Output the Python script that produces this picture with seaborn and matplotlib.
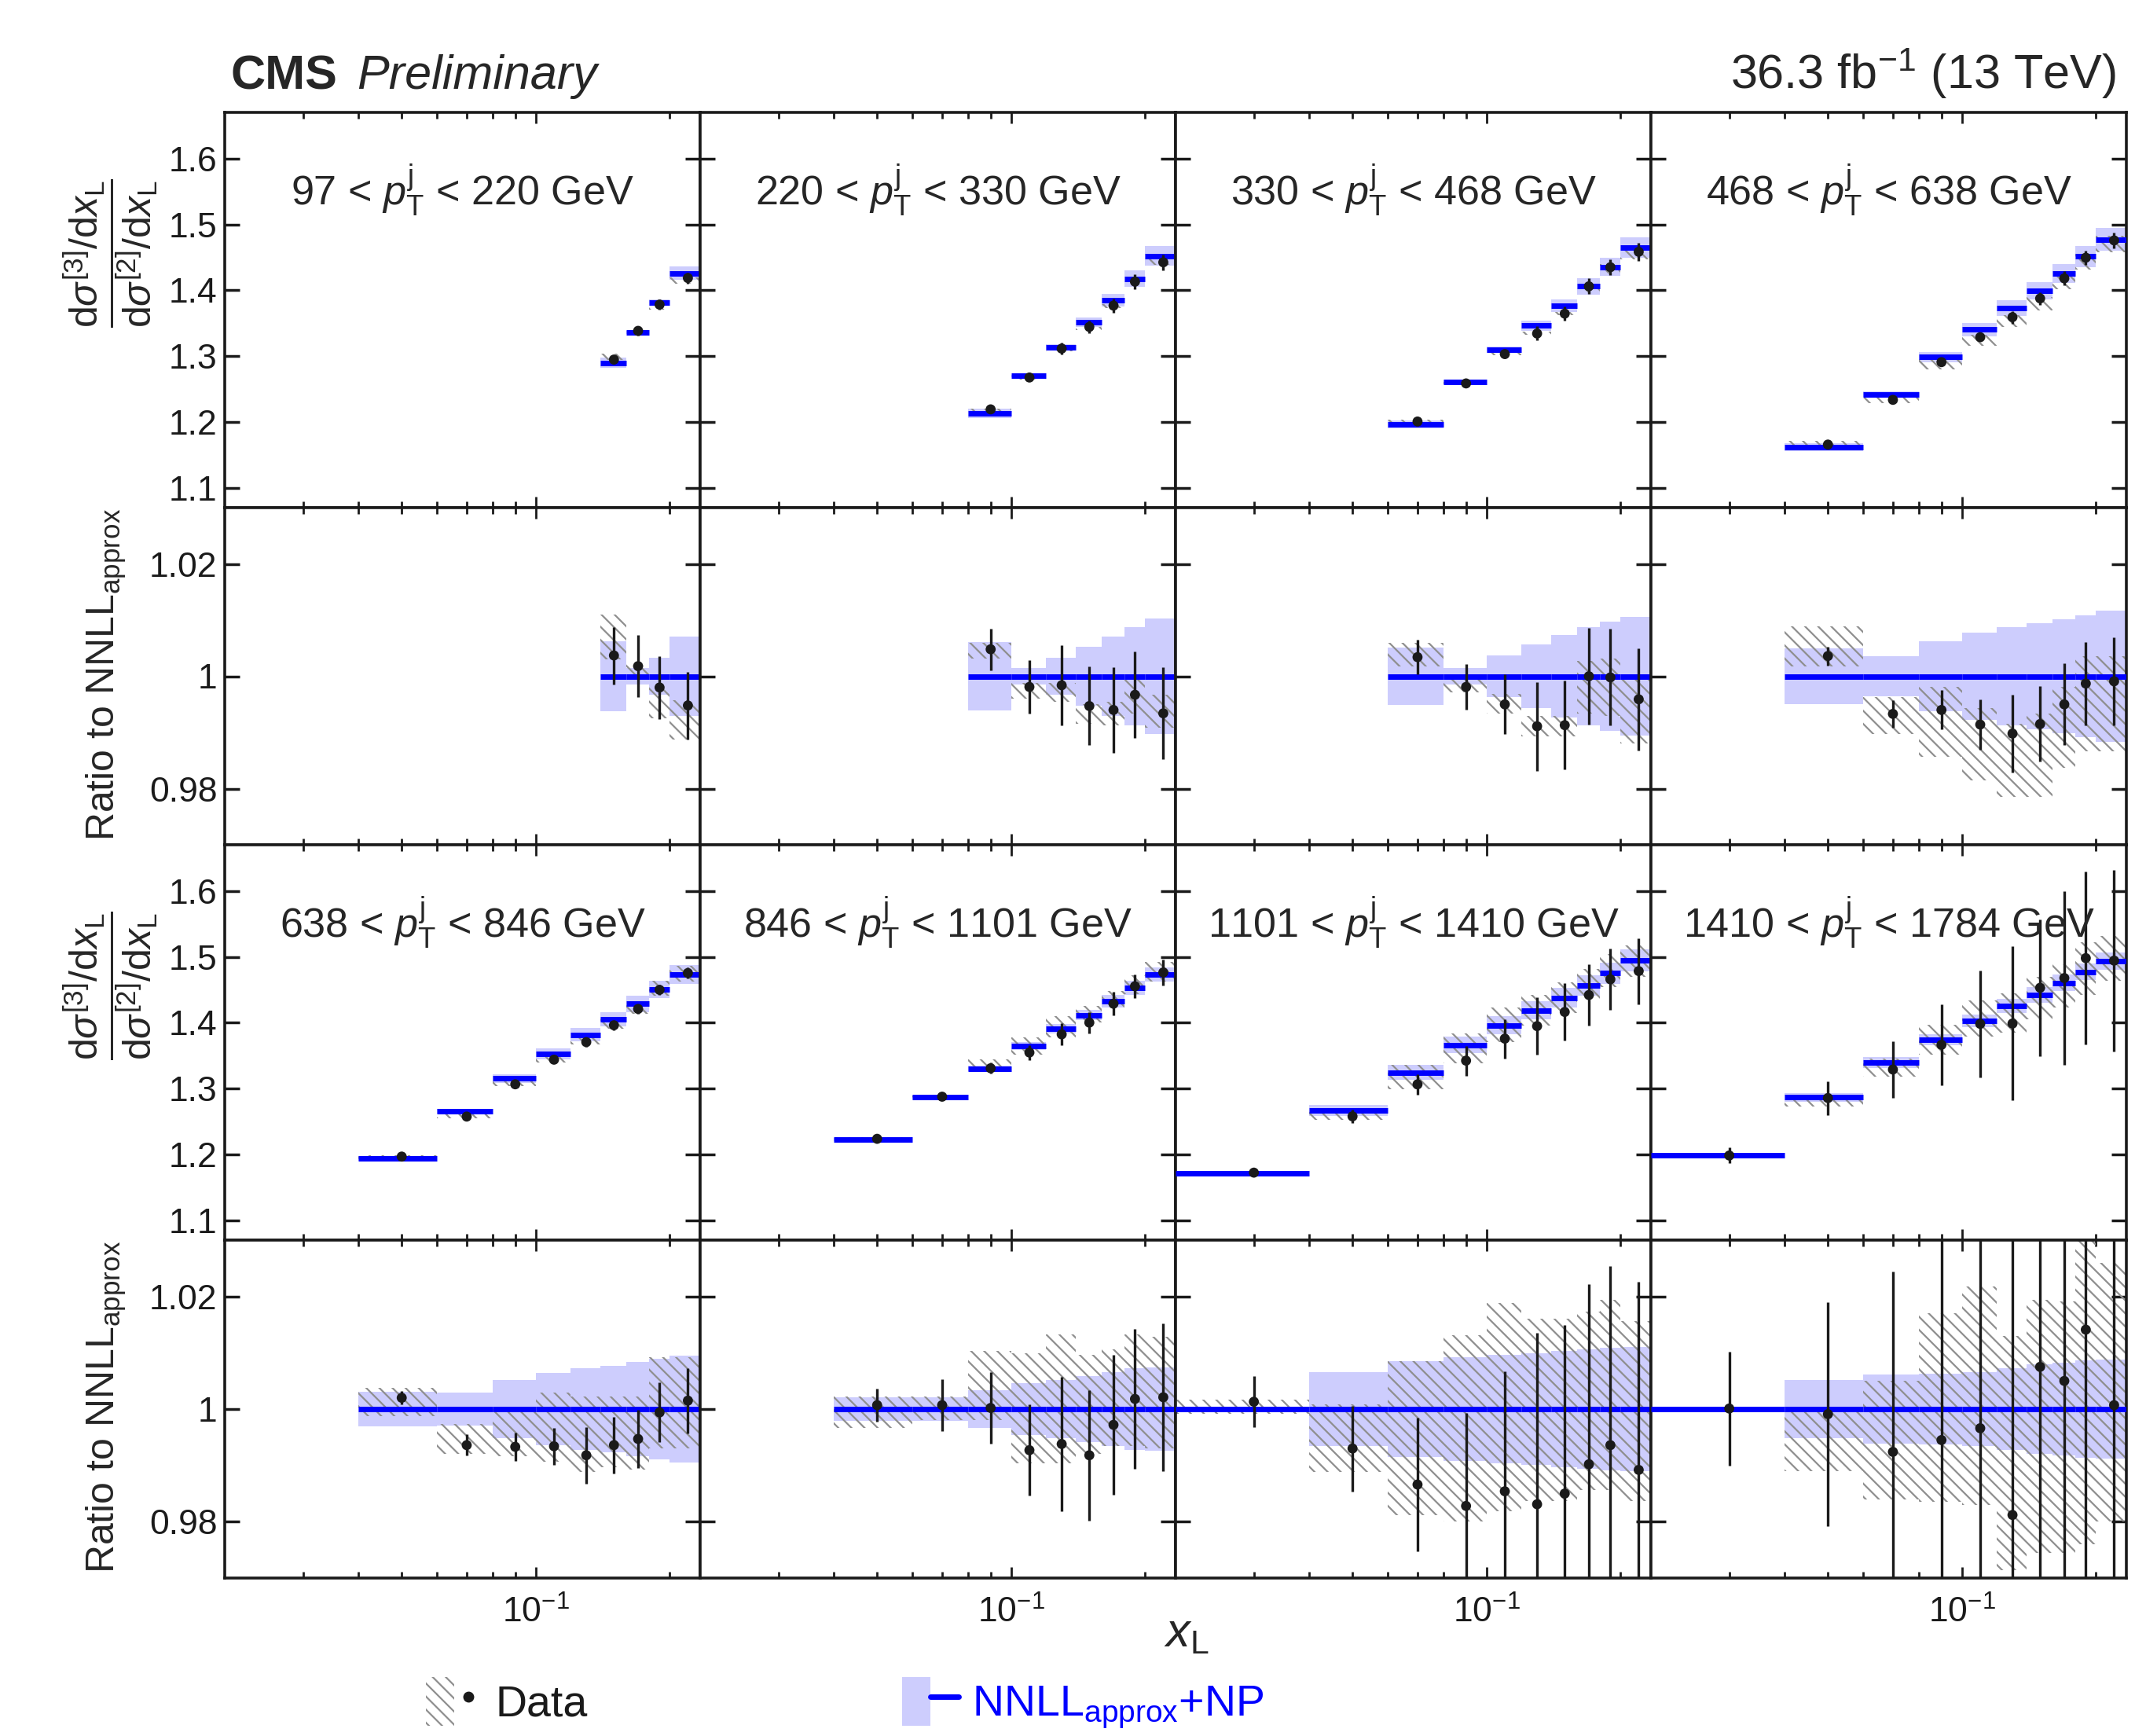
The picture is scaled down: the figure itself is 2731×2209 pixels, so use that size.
import numpy as np
import matplotlib
matplotlib.use('Agg')
import matplotlib.pyplot as plt
import seaborn as sns
from matplotlib.patches import Patch
from matplotlib.lines import Line2D
from matplotlib.legend_handler import HandlerTuple
from matplotlib.ticker import FixedLocator, FixedFormatter, NullFormatter

sns.set_theme(style='ticks')
plt.rcParams['font.family'] = ['Liberation Sans', 'DejaVu Sans']
plt.rcParams['mathtext.fontset'] = 'custom'
plt.rcParams['mathtext.rm'] = 'Liberation Sans'
plt.rcParams['mathtext.it'] = 'Liberation Sans:italic'
plt.rcParams['mathtext.bf'] = 'Liberation Sans:bold'
plt.rcParams['hatch.linewidth'] = 1.6
plt.rcParams['hatch.color'] = '#8f8f8f'

# x_L bin edges (last bin runs past the end of the axis)
edges = [0.02, 0.04, 0.06, 0.08, 0.10, 0.12, 0.14, 0.16, 0.18, 0.20, 0.24]

pt_bins = [(97, 220), (220, 330), (330, 468), (468, 638),
           (638, 846), (846, 1101), (1101, 1410), (1410, 1784)]
first_bin = [6, 3, 2, 1, 1, 1, 0, 0]

# NNLL_approx+NP prediction for dsigma3/dsigma2
theory = [
    [1.290, 1.336, 1.381, 1.426],
    [1.2134, 1.270, 1.3136, 1.3515, 1.385, 1.4177, 1.452],
    [1.1967, 1.261, 1.3097, 1.3463, 1.3765, 1.406, 1.4353, 1.4644],
    [1.1616, 1.242, 1.2987, 1.3403, 1.3732, 1.3995, 1.4252, 1.4513, 1.477],
    [1.1944, 1.2656, 1.3153, 1.3528, 1.3819, 1.4051, 1.4285, 1.4507, 1.4732],
    [1.2229, 1.2868, 1.3306, 1.3647, 1.391, 1.4117, 1.4328, 1.4528, 1.4732],
    [1.1709, 1.2667, 1.3242, 1.3659, 1.3962, 1.4188, 1.4379, 1.4563, 1.4753, 1.4945],
    [1.1983, 1.2868, 1.3391, 1.374, 1.403, 1.4255, 1.4422, 1.4605, 1.4772, 1.4932],
]

# data / theory
ratio = [
    [1.0037, 1.0018, 0.9980, 0.9948],
    [1.0048, 0.9981, 0.9984, 0.9947, 0.9940, 0.9967, 0.9934],
    [1.0034, 0.9981, 0.9950, 0.9911, 0.9913, 1.0000, 0.9998, 0.9959],
    [1.0036, 0.9933, 0.9940, 0.9914, 0.9898, 0.9915, 0.9950, 0.9987, 0.9991],
    [1.0020, 0.9936, 0.9933, 0.9934, 0.9918, 0.9936, 0.9947, 0.9994, 1.0015],
    [1.0007, 1.0007, 1.0002, 0.9927, 0.9938, 0.9918, 0.9972, 1.0018, 1.0021],
    [1.0013, 0.9930, 0.9866, 0.9828, 0.9854, 0.9831, 0.9850, 0.9902, 0.9936, 0.9892],
    [1.0001, 0.9991, 0.9924, 0.9945, 0.9966, 0.9812, 1.0075, 1.0050, 1.0141, 1.0007],
]

# statistical uncertainty (relative)
stat = [
    [0.0051, 0.0055, 0.0056, 0.0060],
    [0.0037, 0.0047, 0.0071, 0.0070, 0.0076, 0.0077, 0.0082],
    [0.0031, 0.0041, 0.0053, 0.0079, 0.0079, 0.0086, 0.0086, 0.0091],
    [0.0017, 0.0025, 0.0035, 0.0045, 0.0069, 0.0067, 0.0073, 0.0074, 0.0078],
    [0.0012, 0.0019, 0.0025, 0.0033, 0.0050, 0.0050, 0.0052, 0.0053, 0.0058],
    [0.0029, 0.0046, 0.0063, 0.0081, 0.0119, 0.0116, 0.0124, 0.0124, 0.0131],
    [0.0045, 0.0076, 0.0118, 0.0165, 0.0213, 0.0305, 0.0300, 0.0320, 0.0318, 0.0334],
    [0.0101, 0.0199, 0.0320, 0.0450, 0.0580, 0.0820, 0.0720, 0.0900, 0.0890, 0.0920],
]

# theory uncertainty (relative, symmetric)
th_unc = [
    [0.0062, 0.0014, 0.0033, 0.0070],
    [0.0061, 0.0014, 0.0033, 0.0052, 0.0071, 0.0087, 0.0103],
    [0.0051, 0.0015, 0.0037, 0.0057, 0.0073, 0.0087, 0.0097, 0.0106],
    [0.0049, 0.0035, 0.0062, 0.0077, 0.0087, 0.0095, 0.0102, 0.0109, 0.0117],
    [0.0031, 0.0029, 0.0051, 0.0064, 0.0072, 0.0077, 0.0084, 0.0089, 0.0095],
    [0.0021, 0.0021, 0.0034, 0.0046, 0.0052, 0.0058, 0.0066, 0.0072, 0.0074],
    [0.0003, 0.0065, 0.0085, 0.0092, 0.0096, 0.0099, 0.0103, 0.0106, 0.0109, 0.0110],
    [0.0002, 0.0051, 0.0062, 0.0063, 0.0066, 0.0072, 0.0080, 0.0083, 0.0086, 0.0088],
]

# systematic band of the data, in ratio units
sys_lo = [
    [1.0030, 1.0004, 0.9925, 0.9888],
    [1.0032, 0.9960, 0.9955, 0.9916, 0.9913, 0.9934, 0.9909],
    [1.0018, 0.9971, 0.9934, 0.9893, 0.9893, 0.9934, 0.9930, 0.9881],
    [1.0018, 0.9897, 0.9856, 0.9814, 0.9786, 0.9786, 0.9837, 0.9867, 0.9867],
    [0.9988, 0.9920, 0.9916, 0.9906, 0.9888, 0.9897, 0.9893, 0.9930, 0.9930],
    [0.9967, 0.9981, 0.9981, 0.9904, 0.9904, 0.9920, 0.9934, 0.9934, 0.9930],
    [0.9992, 0.9888, 0.9812, 0.9800, 0.9819, 0.9837, 0.9837, 0.9856, 0.9856, 0.9837],
    [0.9998, 0.9890, 0.9840, 0.9835, 0.9830, 0.9714, 0.9744, 0.9744, 0.9760, 0.9800],
]
sys_hi = [
    [1.0110, 1.0022, 0.9985, 0.9957],
    [1.0060, 0.9988, 0.9988, 0.9950, 0.9955, 0.9994, 0.9967],
    [1.0059, 0.9999, 0.9969, 0.9930, 0.9930, 1.0027, 1.0031, 0.9994],
    [1.0089, 0.9963, 0.9981, 0.9944, 0.9916, 0.9934, 0.9981, 1.0036, 1.0036],
    [1.0038, 0.9974, 1.0001, 1.0029, 1.0022, 1.0022, 1.0022, 1.0092, 1.0092],
    [1.0023, 1.0023, 1.0103, 1.0099, 1.0133, 1.0096, 1.0106, 1.0133, 1.0129],
    [1.0017, 1.0008, 1.0085, 1.0131, 1.0189, 1.0161, 1.0161, 1.0173, 1.0194, 1.0156],
    [1.0002, 1.0004, 1.0050, 1.0170, 1.0217, 1.0130, 1.0194, 1.0191, 1.0300, 1.0260],
]

band_col = '#cdcdfd'
hatch_col = '#8f8f8f'

W, H = 2731, 2209
col_x = [286, 891, 1496, 2101]
col_w = 605
row_y = [(143, 646), (646, 1075), (1075, 1578), (1578, 2008)]


def rect(x0, y0, x1, y1):
    return [x0 / W, 1 - y1 / H, (x1 - x0) / W, (y1 - y0) / H]


def draw(ax, lo, hi, base, r, st, th, slo, shi):
    w = hi - lo
    x = 0.5 * (lo + hi)
    ax.bar(lo, 2 * th * base, bottom=base * (1 - th), width=w, align='edge',
           color=band_col, lw=0, zorder=1)
    ax.bar(lo, (shi - slo) * base, bottom=slo * base, width=w, align='edge',
           facecolor='none', edgecolor=hatch_col, hatch='\\\\', lw=0, zorder=2)
    ax.hlines(base, lo, hi, color='blue', lw=5, zorder=3)
    ax.errorbar(x, r * base, yerr=st * base, fmt='none', ecolor='k',
                elinewidth=2.4, zorder=4)
    sns.scatterplot(x=x, y=r * base, ax=ax, color='k', s=85, edgecolor='none',
                    zorder=5, legend=False)


fig = plt.figure(figsize=(W / 100, H / 100), dpi=100)
e = np.array(edges)

for i in range(8):
    col, grp = i % 4, i // 4
    n0 = first_bin[i]
    nb = len(theory[i])
    lo, hi = e[n0:n0 + nb], e[n0 + 1:n0 + nb + 1]
    T = np.array(theory[i])
    R = np.array(ratio[i])
    S = np.array(stat[i])
    TH = np.array(th_unc[i])
    SL, SH = np.array(sys_lo[i]), np.array(sys_hi[i])

    y_main = row_y[2 * grp]
    y_rat = row_y[2 * grp + 1]
    ax = fig.add_axes(rect(col_x[col], y_main[0], col_x[col] + col_w, y_main[1]))
    rx = fig.add_axes(rect(col_x[col], y_rat[0], col_x[col] + col_w, y_rat[1]))

    draw(ax, lo, hi, T, R, S, TH, SL, SH)
    draw(rx, lo, hi, np.ones(nb), R, S, TH, SL, SH)

    ax.set_ylim(1.07, 1.67)
    rx.set_ylim(0.97, 1.03)
    ax.yaxis.set_major_locator(FixedLocator([1.1, 1.2, 1.3, 1.4, 1.5, 1.6]))
    rx.yaxis.set_major_locator(FixedLocator([0.98, 1.0, 1.02]))
    for a in (ax, rx):
        a.set_xscale('log')
        a.set_xlim(0.02, 0.2344)
        a.xaxis.set_major_locator(FixedLocator([0.1]))
        a.xaxis.set_minor_locator(FixedLocator([0.03, 0.04, 0.05, 0.06, 0.07,
                                                0.08, 0.09, 0.2]))
        a.xaxis.set_minor_formatter(NullFormatter())
        a.xaxis.set_major_formatter(NullFormatter())
        a.yaxis.set_minor_locator(FixedLocator([]))
        a.tick_params(axis='x', which='major', direction='in', top=True,
                      bottom=True, length=10, width=2, pad=16, labelsize=32,
                      color='k', labelcolor='k')
        a.tick_params(axis='x', which='minor', direction='in', top=True,
                      bottom=True, length=6, width=2, color='k')
        a.tick_params(axis='y', which='major', direction='in', left=True,
                      right=True, length=14, width=2.5, pad=7, labelsize=32,
                      color='k', labelcolor='k')
        for s in a.spines.values():
            s.set_linewidth(2.6)
            s.set_color('k')
        a.set_xlabel('')
        a.set_ylabel('')
        a.set_facecolor('white')
    if col == 0:
        ax.yaxis.set_major_formatter(FixedFormatter(['1.1', '1.2', '1.3', '1.4', '1.5', '1.6']))
        rx.yaxis.set_major_formatter(FixedFormatter(['0.98', '1', '1.02']))
    else:
        ax.yaxis.set_major_formatter(NullFormatter())
        rx.yaxis.set_major_formatter(NullFormatter())
    if grp == 1:
        rx.xaxis.set_major_formatter(FixedFormatter([r'$10^{-1}$']))

    lo_pt, hi_pt = pt_bins[i]
    ax.text(0.5, 0.803, rf'{lo_pt} < $p_{{\mathrm{{T}}}}^{{\mathrm{{j}}}}$ < {hi_pt} GeV',
            transform=ax.transAxes, ha='center', va='center', fontsize=37.5, zorder=6)

# axis titles
ylab = r'$\dfrac{\mathrm{d}\sigma^{[3]}/\mathrm{d}x_{\mathrm{L}}}{\mathrm{d}\sigma^{[2]}/\mathrm{d}x_{\mathrm{L}}}$'
for yc in (322, 1254):
    fig.text(141 / W, 1 - yc / H, ylab, rotation=90, ha='center', va='center', fontsize=36)
for yc in (858, 1790):
    fig.text(135 / W, 1 - yc / H, r'Ratio to NNLL$_{\mathrm{approx}}$', rotation=90,
             ha='center', va='center', fontsize=36)
fig.text(1510 / W, 1 - 2080 / H, r'$x_{\mathrm{L}}$', ha='center', va='center', fontsize=44)

# header
fig.text(293 / W, 1 - 113 / H, 'CMS', fontsize=44, weight='bold', va='baseline')
fig.text(454 / W, 1 - 113 / H, 'Preliminary', fontsize=44, style='italic', va='baseline')
fig.text(2693 / W, 1 - 113 / H, r'36.3 fb$^{-1}$ (13 TeV)', fontsize=44, ha='right', va='baseline')

# legend
h_data = (Patch(facecolor='white', edgecolor=hatch_col, hatch='\\\\', lw=0),
          Line2D([], [], marker='o', color='k', ls='none', markersize=9))
h_th = (Patch(facecolor=band_col, lw=0), Line2D([], [], color='blue', lw=5))
leg = fig.legend([h_data, h_th], ['Data', r'NNLL$_{\mathrm{approx}}$+NP'],
                 handler_map={tuple: HandlerTuple(ndivide=None, pad=0)},
                 loc='center left', bbox_to_anchor=(542 / W, 1 - 2168 / H), ncol=2,
                 frameon=False, fontsize=40, handlelength=1.3, handleheight=1.35,
                 handletextpad=0.3, columnspacing=7.2, borderaxespad=0, borderpad=0)
for t, c in zip(leg.get_texts(), ['k', 'blue']):
    t.set_color(c)

fig.savefig('out.png', dpi=100, facecolor='white')
